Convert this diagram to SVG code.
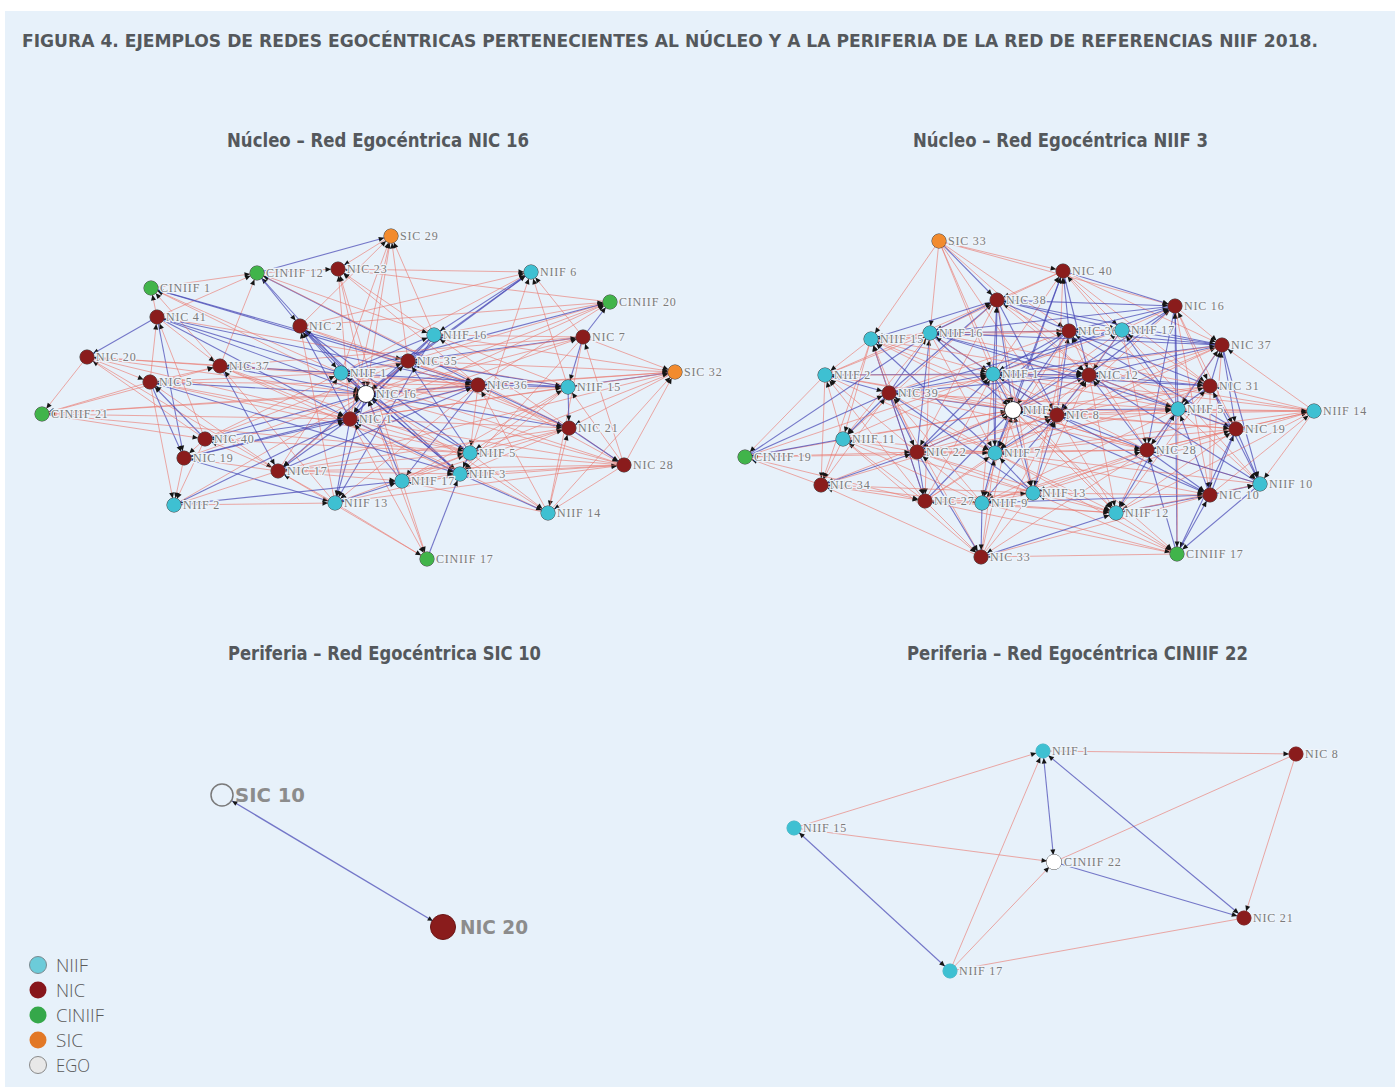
<svg xmlns="http://www.w3.org/2000/svg" width="1395" height="1087" viewBox="0 0 1395 1087">
<style>
.t{font-family:"Liberation Serif","DejaVu Serif",serif;font-size:12px;fill:#7b7b7b;letter-spacing:0.8px;paint-order:stroke;stroke:#eef4fa;stroke-width:2.5px;stroke-linejoin:round}
.F{fill:#3ec0d2;stroke:#2a2a2a;stroke-width:1}
.N{fill:#8a1c1c;stroke:#2a2a2a;stroke-width:1}
.C{fill:#41b44a;stroke:#2a2a2a;stroke-width:1}
.S{fill:#f28b2e;stroke:#2a2a2a;stroke-width:1}
.X{fill:#ffffff;stroke:#1a1a1a;stroke-width:1.6}
.r{stroke:#ea776d;stroke-width:1;stroke-opacity:0.62;fill:none}
.b{stroke:#4747b4;stroke-width:1.1;stroke-opacity:0.72;fill:none}
#c1 path,#c2 path,#c4 path.m{marker-end:url(#ah)}
.hd{font-family:"DejaVu Sans Condensed","Liberation Sans Narrow","Liberation Sans",sans-serif;font-weight:bold;fill:#54585c}
.lg{font-family:"Open Sans","Lato","Liberation Sans",sans-serif;font-weight:300;font-size:19px;fill:#5a5a5a}
.big{font-family:"DejaVu Sans","Liberation Sans",sans-serif;font-weight:bold;font-size:19px;fill:#8c8c8c}
</style>
<defs>
<marker id="ah" markerUnits="userSpaceOnUse" viewBox="-14 -3 14 6" refX="0" refY="0" markerWidth="14" markerHeight="6" orient="auto-start-reverse"><path d="M-12.5,-2.5L-7,0L-12.5,2.5z" fill="#151515"/></marker>
<marker id="ah12" markerUnits="userSpaceOnUse" viewBox="-18 -3 18 6" refX="0" refY="0" markerWidth="18" markerHeight="6" orient="auto-start-reverse"><path d="M-17,-2.5L-12,0L-17,2.5z" fill="#151515"/></marker>
</defs>
<rect x="0" y="0" width="1395" height="1087" fill="#ffffff"/>
<rect x="5" y="11" width="1390" height="1076" fill="#e7f1fa"/>
<text class="hd" x="22" y="47" font-size="17.5" textLength="1296" lengthAdjust="spacingAndGlyphs">FIGURA 4. EJEMPLOS DE REDES EGOCÉNTRICAS PERTENECIENTES AL NÚCLEO Y A LA PERIFERIA DE LA RED DE REFERENCIAS NIIF 2018.</text>
<text class="hd" x="227" y="147" font-size="19" textLength="302" lengthAdjust="spacingAndGlyphs">Núcleo – Red Egocéntrica NIC 16</text>
<text class="hd" x="913" y="147" font-size="19" textLength="295" lengthAdjust="spacingAndGlyphs">Núcleo – Red Egocéntrica NIIF 3</text>
<text class="hd" x="228" y="660" font-size="19" textLength="313" lengthAdjust="spacingAndGlyphs">Periferia – Red Egocéntrica SIC 10</text>
<text class="hd" x="907" y="660" font-size="19" textLength="341" lengthAdjust="spacingAndGlyphs">Periferia – Red Egocéntrica CINIIF 22</text>
<g id="connectors">
<g id="c1">
<path class="r" d="M391 236L366 394"/><path class="r" d="M338 269L366 394"/><path class="b" d="M366 394L257 273"/><path class="b" d="M531 272L366 394"/><path class="r" d="M151 288L366 394"/><path class="r" d="M366 394L610 302"/><path class="b" d="M157 317L366 394"/><path class="b" d="M366 394L300 326"/><path class="b" d="M434 335L366 394"/><path class="r" d="M583 337L366 394"/><path class="r" d="M366 394L87 357"/><path class="b" d="M408 361L366 394"/><path class="b" d="M220 366L366 394"/><path class="b" d="M366 394L341 373"/><path class="r" d="M675 372L366 394"/><path class="b" d="M150 382L366 394"/><path class="b" d="M366 394L478 385"/><path class="r" d="M568 387L366 394"/><path class="r" d="M42 414L366 394"/><path class="b" d="M366 394L350 419"/><path class="b" d="M569 428L366 394"/><path class="b" d="M205 439L366 394"/><path class="b" d="M366 394L470 453"/><path class="r" d="M184 458L366 394"/><path class="r" d="M624 465L366 394"/><path class="b" d="M366 394L278 471"/><path class="b" d="M460 474L366 394"/><path class="b" d="M402 481L366 394"/><path class="r" d="M174 505L366 394"/><path class="b" d="M366 394L335 503"/><path class="r" d="M548 513L366 394"/><path class="r" d="M427 559L366 394"/>
<path class="b" d="M257 273L391 236"/><path class="r" d="M391 236L338 269"/><path class="r" d="M300 326L391 236"/><path class="r" d="M341 373L391 236"/><path class="r" d="M408 361L391 236"/><path class="r" d="M434 335L391 236"/><path class="r" d="M350 419L391 236"/>
<path class="r" d="M338 269L531 272"/><path class="r" d="M257 273L338 269"/><path class="r" d="M434 335L338 269"/><path class="r" d="M478 385L338 269"/><path class="r" d="M350 419L338 269"/><path class="r" d="M610 302L338 269"/><path class="r" d="M402 481L338 269"/>
<path class="r" d="M151 288L257 273"/><path class="r" d="M157 317L257 273"/><path class="b" d="M257 273L300 326"/><path class="b" d="M257 273L478 385"/><path class="r" d="M220 366L257 273"/><path class="r" d="M257 273L434 335"/><path class="r" d="M569 428L257 273"/>
<path class="b" d="M531 272L434 335"/><path class="b" d="M408 361L531 272"/><path class="r" d="M341 373L531 272"/><path class="r" d="M583 337L531 272"/><path class="r" d="M568 387L531 272"/><path class="r" d="M300 326L531 272"/><path class="r" d="M470 453L531 272"/>
<path class="r" d="M300 326L610 302"/><path class="r" d="M408 361L610 302"/><path class="b" d="M341 373L610 302"/><path class="b" d="M583 337L610 302"/><path class="r" d="M434 335L610 302"/><path class="r" d="M350 419L610 302"/><path class="r" d="M478 385L610 302"/>
<path class="r" d="M157 317L151 288"/><path class="r" d="M341 373L151 288"/><path class="b" d="M151 288L408 361"/><path class="b" d="M478 385L151 288"/><path class="r" d="M220 366L151 288"/>
<path class="b" d="M157 317L87 357"/><path class="r" d="M150 382L157 317"/><path class="r" d="M157 317L220 366"/><path class="b" d="M157 317L184 458"/><path class="b" d="M341 373L157 317"/><path class="b" d="M157 317L350 419"/><path class="b" d="M478 385L157 317"/><path class="r" d="M157 317L568 387"/><path class="r" d="M205 439L157 317"/>
<path class="r" d="M87 357L150 382"/><path class="r" d="M220 366L87 357"/><path class="r" d="M87 357L42 414"/><path class="r" d="M341 373L87 357"/><path class="r" d="M87 357L350 419"/><path class="r" d="M205 439L87 357"/><path class="r" d="M87 357L278 471"/>
<path class="r" d="M150 382L220 366"/><path class="r" d="M220 366L350 419"/><path class="b" d="M341 373L220 366"/><path class="b" d="M220 366L278 471"/><path class="r" d="M335 503L220 366"/><path class="r" d="M220 366L460 474"/><path class="r" d="M470 453L220 366"/><path class="r" d="M220 366L478 385"/><path class="r" d="M583 337L220 366"/>
<path class="b" d="M300 326L341 373"/><path class="b" d="M350 419L300 326"/><path class="r" d="M300 326L478 385"/><path class="b" d="M470 453L300 326"/><path class="b" d="M300 326L460 474"/><path class="r" d="M335 503L300 326"/><path class="r" d="M300 326L569 428"/>
<path class="b" d="M341 373L434 335"/><path class="b" d="M434 335L350 419"/><path class="r" d="M583 337L434 335"/><path class="r" d="M434 335L675 372"/><path class="r" d="M568 387L434 335"/><path class="b" d="M434 335L335 503"/><path class="r" d="M624 465L434 335"/>
<path class="r" d="M583 337L675 372"/><path class="b" d="M583 337L408 361"/><path class="r" d="M341 373L583 337"/><path class="b" d="M583 337L568 387"/><path class="r" d="M350 419L583 337"/><path class="r" d="M583 337L460 474"/><path class="r" d="M624 465L583 337"/><path class="r" d="M583 337L548 513"/>
<path class="r" d="M408 361L341 373"/><path class="b" d="M350 419L408 361"/><path class="r" d="M408 361L478 385"/><path class="b" d="M470 453L408 361"/><path class="r" d="M408 361L278 471"/><path class="r" d="M569 428L408 361"/><path class="r" d="M408 361L675 372"/><path class="b" d="M568 387L408 361"/>
<path class="r" d="M341 373L478 385"/><path class="b" d="M568 387L341 373"/><path class="b" d="M341 373L460 474"/><path class="r" d="M278 471L341 373"/><path class="r" d="M341 373L569 428"/><path class="r" d="M205 439L341 373"/><path class="r" d="M341 373L150 382"/><path class="r" d="M624 465L341 373"/>
<path class="r" d="M675 372L478 385"/><path class="b" d="M675 372L568 387"/><path class="r" d="M350 419L675 372"/><path class="r" d="M675 372L470 453"/><path class="r" d="M278 471L675 372"/><path class="r" d="M675 372L569 428"/>
<path class="b" d="M150 382L184 458"/><path class="b" d="M205 439L150 382"/><path class="r" d="M150 382L42 414"/><path class="r" d="M350 419L150 382"/><path class="r" d="M150 382L478 385"/><path class="r" d="M470 453L150 382"/><path class="b" d="M150 382L460 474"/><path class="r" d="M278 471L150 382"/><path class="r" d="M150 382L174 505"/>
<path class="b" d="M478 385L568 387"/><path class="b" d="M569 428L478 385"/><path class="r" d="M478 385L470 453"/><path class="r" d="M350 419L478 385"/><path class="r" d="M478 385L624 465"/><path class="r" d="M548 513L478 385"/><path class="b" d="M478 385L402 481"/><path class="b" d="M278 471L478 385"/><path class="r" d="M478 385L335 503"/>
<path class="b" d="M568 387L569 428"/><path class="r" d="M624 465L568 387"/><path class="r" d="M568 387L460 474"/><path class="r" d="M350 419L568 387"/><path class="r" d="M568 387L470 453"/><path class="r" d="M402 481L568 387"/>
<path class="r" d="M42 414L350 419"/><path class="r" d="M478 385L42 414"/><path class="r" d="M42 414L205 439"/><path class="r" d="M470 453L42 414"/><path class="r" d="M42 414L220 366"/>
<path class="r" d="M350 419L470 453"/><path class="b" d="M460 474L350 419"/><path class="b" d="M350 419L278 471"/><path class="b" d="M402 481L350 419"/><path class="b" d="M350 419L335 503"/><path class="b" d="M174 505L350 419"/><path class="b" d="M350 419L205 439"/><path class="r" d="M548 513L350 419"/><path class="r" d="M350 419L569 428"/><path class="r" d="M624 465L350 419"/><path class="r" d="M350 419L427 559"/><path class="b" d="M184 458L350 419"/>
<path class="b" d="M569 428L624 465"/><path class="r" d="M470 453L569 428"/><path class="r" d="M569 428L460 474"/><path class="r" d="M548 513L569 428"/><path class="r" d="M569 428L278 471"/><path class="r" d="M402 481L569 428"/>
<path class="r" d="M205 439L184 458"/><path class="r" d="M278 471L205 439"/><path class="r" d="M205 439L174 505"/><path class="r" d="M470 453L205 439"/><path class="r" d="M205 439L408 361"/>
<path class="b" d="M470 453L460 474"/><path class="r" d="M624 465L470 453"/><path class="r" d="M470 453L548 513"/><path class="r" d="M402 481L470 453"/><path class="r" d="M470 453L335 503"/><path class="r" d="M278 471L470 453"/>
<path class="r" d="M184 458L174 505"/><path class="r" d="M278 471L184 458"/><path class="b" d="M184 458L335 503"/><path class="b" d="M478 385L184 458"/>
<path class="r" d="M624 465L460 474"/><path class="r" d="M402 481L624 465"/><path class="r" d="M624 465L548 513"/><path class="r" d="M335 503L624 465"/><path class="r" d="M624 465L278 471"/>
<path class="r" d="M278 471L402 481"/><path class="r" d="M335 503L278 471"/><path class="r" d="M278 471L174 505"/><path class="r" d="M427 559L278 471"/><path class="r" d="M278 471L460 474"/>
<path class="b" d="M460 474L548 513"/><path class="r" d="M402 481L460 474"/><path class="b" d="M427 559L460 474"/><path class="r" d="M460 474L335 503"/><path class="b" d="M335 503L402 481"/><path class="r" d="M402 481L427 559"/><path class="r" d="M548 513L402 481"/><path class="r" d="M335 503L427 559"/><path class="r" d="M174 505L335 503"/><path class="b" d="M174 505L402 481"/><path class="r" d="M548 513L675 372"/><path class="r" d="M624 465L675 372"/>
</g>
<g id="c2">
<path class="r" d="M939 241L1013 410"/><path class="b" d="M1013 410L1063 271"/><path class="b" d="M997 300L1013 410"/><path class="b" d="M1013 410L1175 306"/><path class="b" d="M1069 331L1013 410"/><path class="r" d="M1013 410L1122 330"/><path class="b" d="M930 333L1013 410"/><path class="r" d="M1013 410L871 339"/><path class="r" d="M1222 345L1013 410"/><path class="r" d="M1013 410L825 375"/><path class="b" d="M993 374L1013 410"/><path class="b" d="M1013 410L1089 375"/><path class="r" d="M1210 386L1013 410"/><path class="b" d="M1013 410L889 393"/><path class="b" d="M1057 415L1013 410"/><path class="b" d="M1013 410L1178 409"/><path class="r" d="M1314 411L1013 410"/><path class="r" d="M1013 410L1236 429"/><path class="r" d="M843 439L1013 410"/><path class="r" d="M1013 410L745 457"/><path class="b" d="M917 452L1013 410"/><path class="b" d="M1013 410L995 453"/><path class="r" d="M1147 450L1013 410"/><path class="r" d="M1013 410L821 485"/><path class="b" d="M925 501L1013 410"/><path class="r" d="M1013 410L982 503"/><path class="b" d="M1033 493L1013 410"/><path class="b" d="M1013 410L1210 495"/><path class="r" d="M1260 484L1013 410"/><path class="r" d="M1013 410L1116 513"/><path class="r" d="M981 557L1013 410"/><path class="r" d="M1013 410L1177 554"/>
<path class="b" d="M939 241L997 300"/><path class="r" d="M939 241L1063 271"/><path class="r" d="M939 241L1175 306"/><path class="r" d="M939 241L1069 331"/><path class="r" d="M939 241L993 374"/><path class="r" d="M939 241L871 339"/><path class="r" d="M939 241L930 333"/><path class="r" d="M939 241L1089 375"/><path class="r" d="M939 241L1057 415"/>
<path class="r" d="M1063 271L997 300"/><path class="b" d="M1063 271L1175 306"/><path class="b" d="M1069 331L1063 271"/><path class="r" d="M1063 271L1122 330"/><path class="r" d="M993 374L1063 271"/><path class="b" d="M1063 271L1089 375"/><path class="r" d="M1057 415L1063 271"/><path class="r" d="M1063 271L1222 345"/><path class="r" d="M1178 409L1063 271"/><path class="r" d="M1063 271L930 333"/><path class="b" d="M995 453L1063 271"/><path class="r" d="M1063 271L1210 386"/>
<path class="b" d="M997 300L1175 306"/><path class="b" d="M1069 331L997 300"/><path class="b" d="M997 300L1122 330"/><path class="b" d="M930 333L997 300"/><path class="b" d="M997 300L871 339"/><path class="b" d="M993 374L997 300"/><path class="r" d="M997 300L1089 375"/><path class="b" d="M889 393L997 300"/><path class="b" d="M997 300L1057 415"/><path class="r" d="M825 375L997 300"/><path class="r" d="M997 300L917 452"/><path class="b" d="M995 453L997 300"/><path class="r" d="M997 300L1033 493"/><path class="r" d="M1178 409L997 300"/><path class="r" d="M997 300L843 439"/><path class="b" d="M1222 345L997 300"/>
<path class="b" d="M1175 306L1069 331"/><path class="r" d="M1122 330L1175 306"/><path class="r" d="M1175 306L1222 345"/><path class="b" d="M1089 375L1175 306"/><path class="r" d="M1175 306L1210 386"/><path class="b" d="M1178 409L1175 306"/><path class="b" d="M1175 306L1147 450"/><path class="b" d="M1177 554L1175 306"/><path class="r" d="M1175 306L1210 495"/><path class="b" d="M993 374L1175 306"/><path class="r" d="M1175 306L1057 415"/><path class="r" d="M1236 429L1175 306"/><path class="b" d="M1175 306L930 333"/>
<path class="r" d="M1069 331L1122 330"/><path class="b" d="M930 333L1069 331"/><path class="r" d="M1069 331L871 339"/><path class="b" d="M1222 345L1069 331"/><path class="b" d="M1069 331L993 374"/><path class="r" d="M1089 375L1069 331"/><path class="b" d="M1069 331L1210 386"/><path class="b" d="M1057 415L1069 331"/><path class="r" d="M1069 331L995 453"/><path class="r" d="M1147 450L1069 331"/><path class="b" d="M1069 331L917 452"/><path class="r" d="M889 393L1069 331"/><path class="r" d="M1069 331L1033 493"/><path class="b" d="M1236 429L1069 331"/>
<path class="b" d="M1122 330L1222 345"/><path class="r" d="M993 374L1122 330"/><path class="b" d="M1122 330L1089 375"/><path class="r" d="M1210 386L1122 330"/><path class="r" d="M1122 330L1057 415"/><path class="b" d="M1178 409L1122 330"/><path class="r" d="M1122 330L1147 450"/><path class="r" d="M930 333L1122 330"/><path class="r" d="M1122 330L1260 484"/><path class="b" d="M889 393L1122 330"/>
<path class="r" d="M930 333L871 339"/><path class="r" d="M825 375L930 333"/><path class="b" d="M930 333L993 374"/><path class="b" d="M889 393L930 333"/><path class="r" d="M930 333L843 439"/><path class="b" d="M917 452L930 333"/><path class="b" d="M930 333L1089 375"/><path class="r" d="M1057 415L930 333"/><path class="r" d="M930 333L995 453"/><path class="b" d="M1222 345L930 333"/><path class="r" d="M930 333L925 501"/><path class="r" d="M1210 386L930 333"/><path class="b" d="M930 333L1178 409"/>
<path class="r" d="M871 339L825 375"/><path class="b" d="M889 393L871 339"/><path class="r" d="M871 339L843 439"/><path class="r" d="M917 452L871 339"/><path class="r" d="M871 339L993 374"/><path class="r" d="M925 501L871 339"/><path class="r" d="M871 339L821 485"/><path class="b" d="M995 453L871 339"/><path class="r" d="M871 339L1089 375"/><path class="r" d="M1057 415L871 339"/>
<path class="b" d="M1222 345L1089 375"/><path class="b" d="M1210 386L1222 345"/><path class="b" d="M1222 345L1178 409"/><path class="r" d="M1314 411L1222 345"/><path class="b" d="M1222 345L1236 429"/><path class="r" d="M1147 450L1222 345"/><path class="b" d="M1222 345L993 374"/><path class="r" d="M1057 415L1222 345"/><path class="b" d="M1222 345L1260 484"/><path class="r" d="M889 393L1222 345"/><path class="r" d="M1222 345L995 453"/><path class="r" d="M1210 495L1222 345"/>
<path class="b" d="M825 375L889 393"/><path class="r" d="M843 439L825 375"/><path class="r" d="M825 375L745 457"/><path class="r" d="M917 452L825 375"/><path class="r" d="M825 375L821 485"/><path class="r" d="M925 501L825 375"/><path class="b" d="M825 375L993 374"/><path class="r" d="M1057 415L825 375"/><path class="r" d="M825 375L995 453"/><path class="r" d="M1089 375L825 375"/>
<path class="b" d="M993 374L1089 375"/><path class="b" d="M889 393L993 374"/><path class="b" d="M993 374L1057 415"/><path class="b" d="M917 452L993 374"/><path class="b" d="M993 374L995 453"/><path class="r" d="M925 501L993 374"/><path class="r" d="M993 374L982 503"/><path class="r" d="M1178 409L993 374"/><path class="b" d="M993 374L1210 386"/><path class="r" d="M1147 450L993 374"/><path class="r" d="M993 374L1033 493"/><path class="r" d="M843 439L993 374"/><path class="r" d="M993 374L1116 513"/><path class="r" d="M1314 411L993 374"/>
<path class="b" d="M1089 375L1210 386"/><path class="b" d="M1057 415L1089 375"/><path class="b" d="M1089 375L1178 409"/><path class="b" d="M1147 450L1089 375"/><path class="r" d="M1089 375L1236 429"/><path class="r" d="M1314 411L1089 375"/><path class="r" d="M1089 375L995 453"/><path class="b" d="M889 393L1089 375"/><path class="r" d="M1089 375L917 452"/><path class="r" d="M1033 493L1089 375"/><path class="r" d="M1089 375L1116 513"/><path class="b" d="M1260 484L1089 375"/>
<path class="b" d="M1210 386L1178 409"/><path class="r" d="M1314 411L1210 386"/><path class="b" d="M1210 386L1236 429"/><path class="r" d="M1147 450L1210 386"/><path class="r" d="M1210 386L1210 495"/><path class="b" d="M1260 484L1210 386"/><path class="r" d="M1210 386L1057 415"/><path class="r" d="M995 453L1210 386"/><path class="r" d="M1210 386L1116 513"/>
<path class="b" d="M889 393L843 439"/><path class="b" d="M745 457L889 393"/><path class="b" d="M889 393L917 452"/><path class="r" d="M821 485L889 393"/><path class="b" d="M889 393L925 501"/><path class="r" d="M1057 415L889 393"/><path class="r" d="M889 393L995 453"/><path class="r" d="M982 503L889 393"/><path class="r" d="M889 393L1147 450"/><path class="r" d="M1178 409L889 393"/><path class="r" d="M889 393L981 557"/><path class="b" d="M1033 493L889 393"/>
<path class="r" d="M1057 415L1178 409"/><path class="r" d="M917 452L1057 415"/><path class="b" d="M1057 415L995 453"/><path class="b" d="M1147 450L1057 415"/><path class="b" d="M1057 415L982 503"/><path class="b" d="M1033 493L1057 415"/><path class="r" d="M1057 415L1116 513"/><path class="r" d="M925 501L1057 415"/><path class="r" d="M1057 415L1236 429"/><path class="r" d="M1314 411L1057 415"/><path class="b" d="M1057 415L1210 495"/><path class="r" d="M981 557L1057 415"/><path class="r" d="M1057 415L821 485"/>
<path class="r" d="M1178 409L1314 411"/><path class="b" d="M1236 429L1178 409"/><path class="b" d="M1178 409L1147 450"/><path class="b" d="M1210 495L1178 409"/><path class="r" d="M1178 409L1260 484"/><path class="b" d="M1116 513L1178 409"/><path class="r" d="M1178 409L982 503"/><path class="r" d="M917 452L1178 409"/><path class="r" d="M1178 409L1177 554"/>
<path class="r" d="M1236 429L1314 411"/><path class="r" d="M1147 450L1314 411"/><path class="r" d="M1314 411L1260 484"/><path class="r" d="M1210 495L1314 411"/><path class="r" d="M1314 411L1116 513"/><path class="r" d="M995 453L1314 411"/><path class="r" d="M1314 411L1033 493"/>
<path class="r" d="M1236 429L1147 450"/><path class="b" d="M1210 495L1236 429"/><path class="b" d="M1236 429L1260 484"/><path class="r" d="M1116 513L1236 429"/><path class="b" d="M1236 429L1177 554"/><path class="r" d="M982 503L1236 429"/><path class="r" d="M1236 429L995 453"/>
<path class="b" d="M843 439L745 457"/><path class="r" d="M917 452L843 439"/><path class="r" d="M843 439L821 485"/><path class="r" d="M925 501L843 439"/><path class="r" d="M843 439L995 453"/><path class="r" d="M982 503L843 439"/><path class="r" d="M843 439L981 557"/><path class="r" d="M1033 493L843 439"/>
<path class="r" d="M745 457L917 452"/><path class="r" d="M821 485L745 457"/><path class="r" d="M745 457L993 374"/><path class="r" d="M995 453L745 457"/><path class="r" d="M745 457L925 501"/><path class="b" d="M745 457L930 333"/>
<path class="r" d="M917 452L995 453"/><path class="b" d="M821 485L917 452"/><path class="b" d="M917 452L925 501"/><path class="r" d="M982 503L917 452"/><path class="b" d="M917 452L981 557"/><path class="r" d="M1033 493L917 452"/><path class="r" d="M917 452L1116 513"/><path class="r" d="M1147 450L917 452"/>
<path class="r" d="M995 453L1147 450"/><path class="r" d="M925 501L995 453"/><path class="b" d="M995 453L982 503"/><path class="b" d="M1033 493L995 453"/><path class="r" d="M995 453L1116 513"/><path class="r" d="M981 557L995 453"/><path class="r" d="M995 453L1210 495"/><path class="r" d="M1260 484L995 453"/><path class="r" d="M995 453L1177 554"/>
<path class="b" d="M1147 450L1210 495"/><path class="b" d="M1260 484L1147 450"/><path class="r" d="M1147 450L1116 513"/><path class="b" d="M1177 554L1147 450"/><path class="r" d="M1147 450L1033 493"/><path class="r" d="M982 503L1147 450"/><path class="r" d="M1147 450L981 557"/>
<path class="r" d="M821 485L925 501"/><path class="r" d="M981 557L821 485"/><path class="r" d="M821 485L982 503"/><path class="r" d="M1033 493L821 485"/>
<path class="r" d="M925 501L981 557"/><path class="r" d="M982 503L925 501"/><path class="r" d="M925 501L1033 493"/><path class="r" d="M1177 554L925 501"/><path class="r" d="M925 501L1116 513"/>
<path class="b" d="M982 503L981 557"/><path class="r" d="M1033 493L982 503"/><path class="r" d="M982 503L1116 513"/><path class="b" d="M1210 495L982 503"/><path class="r" d="M982 503L1177 554"/>
<path class="r" d="M1033 493L1116 513"/><path class="r" d="M981 557L1033 493"/><path class="r" d="M1033 493L1210 495"/><path class="r" d="M1177 554L1033 493"/>
<path class="b" d="M1210 495L1260 484"/><path class="b" d="M1177 554L1210 495"/><path class="b" d="M1210 495L1116 513"/><path class="r" d="M981 557L1210 495"/><path class="b" d="M1260 484L1177 554"/><path class="r" d="M1116 513L1260 484"/><path class="r" d="M1116 513L1177 554"/><path class="b" d="M981 557L1116 513"/><path class="r" d="M1177 554L981 557"/>
</g>
<g id="c3">
<path class="b" d="M443 927L222 795" marker-start="url(#ah12)" marker-end="url(#ah12)" style="stroke-width:1.4"/>
</g>
<g id="c4">
<path class="r m" d="M794 828L1043 751"/>
<path class="r m" d="M794 828L1054 862"/>
<path class="r m" d="M1043 751L1296 754"/>
<path class="r" d="M1296 754L1054 862"/>
<path class="r m" d="M1296 754L1244 918"/>
<path class="r m" d="M950 971L1043 751"/>
<path class="r m" d="M950 971L1054 862"/>
<path class="r" d="M950 971L1244 918"/>
<path class="b m" d="M1043 751L1054 862" marker-start="url(#ah)"/>
<path class="b m" d="M1043 751L1244 918" marker-start="url(#ah)"/>
<path class="b m" d="M1054 862L1244 918"/>
<path class="b m" d="M794 828L950 971" marker-start="url(#ah)"/>
</g>
</g>
<g id="p1-nodes" class="t">
<g id="p1-sic29"><circle class="S" cx="391" cy="236" r="7"/><text x="400" y="240">SIC 29</text></g>
<g id="p1-nic23"><circle class="N" cx="338" cy="269" r="7"/><text x="347" y="273">NIC 23</text></g>
<g id="p1-ciniif12"><circle class="C" cx="257" cy="273" r="7"/><text x="266" y="277">CINIIF 12</text></g>
<g id="p1-niif6"><circle class="F" cx="531" cy="272" r="7"/><text x="540" y="276">NIIF 6</text></g>
<g id="p1-ciniif1"><circle class="C" cx="151" cy="288" r="7"/><text x="160" y="292">CINIIF 1</text></g>
<g id="p1-ciniif20"><circle class="C" cx="610" cy="302" r="7"/><text x="619" y="306">CINIIF 20</text></g>
<g id="p1-nic41"><circle class="N" cx="157" cy="317" r="7"/><text x="166" y="321">NIC 41</text></g>
<g id="p1-nic2"><circle class="N" cx="300" cy="326" r="7"/><text x="309" y="330">NIC 2</text></g>
<g id="p1-niif16"><circle class="F" cx="434" cy="335" r="7"/><text x="443" y="339">NIIF 16</text></g>
<g id="p1-nic7"><circle class="N" cx="583" cy="337" r="7"/><text x="592" y="341">NIC 7</text></g>
<g id="p1-nic20"><circle class="N" cx="87" cy="357" r="7"/><text x="96" y="361">NIC 20</text></g>
<g id="p1-nic35"><circle class="N" cx="408" cy="361" r="7"/><text x="417" y="365">NIC 35</text></g>
<g id="p1-nic37"><circle class="N" cx="220" cy="366" r="7"/><text x="229" y="370">NIC 37</text></g>
<g id="p1-niif1"><circle class="F" cx="341" cy="373" r="7"/><text x="350" y="377">NIIF 1</text></g>
<g id="p1-sic32"><circle class="S" cx="675" cy="372" r="7"/><text x="684" y="376">SIC 32</text></g>
<g id="p1-nic5"><circle class="N" cx="150" cy="382" r="7"/><text x="159" y="386">NIC 5</text></g>
<g id="p1-nic36"><circle class="N" cx="478" cy="385" r="7"/><text x="487" y="389">NIC 36</text></g>
<g id="p1-niif15"><circle class="F" cx="568" cy="387" r="7"/><text x="577" y="391">NIIF 15</text></g>
<g id="p1-ego-nic16"><circle class="X" cx="366" cy="394" r="8"/><text x="376" y="398">NIC 16</text></g>
<g id="p1-ciniif21"><circle class="C" cx="42" cy="414" r="7"/><text x="51" y="418">CINIIF 21</text></g>
<g id="p1-nic1"><circle class="N" cx="350" cy="419" r="7"/><text x="359" y="423">NIC 1</text></g>
<g id="p1-nic21"><circle class="N" cx="569" cy="428" r="7"/><text x="578" y="432">NIC 21</text></g>
<g id="p1-nic40"><circle class="N" cx="205" cy="439" r="7"/><text x="214" y="443">NIC 40</text></g>
<g id="p1-niif5"><circle class="F" cx="470" cy="453" r="7"/><text x="479" y="457">NIIF 5</text></g>
<g id="p1-nic19"><circle class="N" cx="184" cy="458" r="7"/><text x="193" y="462">NIC 19</text></g>
<g id="p1-nic28"><circle class="N" cx="624" cy="465" r="7"/><text x="633" y="469">NIC 28</text></g>
<g id="p1-nic17"><circle class="N" cx="278" cy="471" r="7"/><text x="287" y="475">NIC 17</text></g>
<g id="p1-niif3"><circle class="F" cx="460" cy="474" r="7"/><text x="469" y="478">NIIF 3</text></g>
<g id="p1-niif17"><circle class="F" cx="402" cy="481" r="7"/><text x="411" y="485">NIIF 17</text></g>
<g id="p1-niif2"><circle class="F" cx="174" cy="505" r="7"/><text x="183" y="509">NIIF 2</text></g>
<g id="p1-niif13"><circle class="F" cx="335" cy="503" r="7"/><text x="344" y="507">NIIF 13</text></g>
<g id="p1-niif14"><circle class="F" cx="548" cy="513" r="7"/><text x="557" y="517">NIIF 14</text></g>
<g id="p1-ciniif17"><circle class="C" cx="427" cy="559" r="7"/><text x="436" y="563">CINIIF 17</text></g>
</g>
<g id="p2-nodes" class="t">
<g id="p2-sic33"><circle class="S" cx="939" cy="241" r="7"/><text x="948" y="245">SIC 33</text></g>
<g id="p2-nic40"><circle class="N" cx="1063" cy="271" r="7"/><text x="1072" y="275">NIC 40</text></g>
<g id="p2-nic38"><circle class="N" cx="997" cy="300" r="7"/><text x="1006" y="304">NIC 38</text></g>
<g id="p2-nic16"><circle class="N" cx="1175" cy="306" r="7"/><text x="1184" y="310">NIC 16</text></g>
<g id="p2-nic36"><circle class="N" cx="1069" cy="331" r="7"/><text x="1078" y="335">NIC 36</text></g>
<g id="p2-niif17"><circle class="F" cx="1122" cy="330" r="7"/><text x="1131" y="334">NIIF 17</text></g>
<g id="p2-niif16"><circle class="F" cx="930" cy="333" r="7"/><text x="939" y="337">NIIF 16</text></g>
<g id="p2-niif15"><circle class="F" cx="871" cy="339" r="7"/><text x="880" y="343">NIIF 15</text></g>
<g id="p2-nic37"><circle class="N" cx="1222" cy="345" r="7"/><text x="1231" y="349">NIC 37</text></g>
<g id="p2-niif2"><circle class="F" cx="825" cy="375" r="7"/><text x="834" y="379">NIIF 2</text></g>
<g id="p2-niif1"><circle class="F" cx="993" cy="374" r="7"/><text x="1002" y="378">NIIF 1</text></g>
<g id="p2-nic12"><circle class="N" cx="1089" cy="375" r="7"/><text x="1098" y="379">NIC 12</text></g>
<g id="p2-nic31"><circle class="N" cx="1210" cy="386" r="7"/><text x="1219" y="390">NIC 31</text></g>
<g id="p2-nic39"><circle class="N" cx="889" cy="393" r="7"/><text x="898" y="397">NIC 39</text></g>
<g id="p2-ego-niif3"><circle class="X" cx="1013" cy="410" r="8"/><text x="1023" y="414">NIIF 3</text></g>
<g id="p2-nic8"><circle class="N" cx="1057" cy="415" r="7"/><text x="1066" y="419">NIC 8</text></g>
<g id="p2-niif5"><circle class="F" cx="1178" cy="409" r="7"/><text x="1187" y="413">NIIF 5</text></g>
<g id="p2-niif14"><circle class="F" cx="1314" cy="411" r="7"/><text x="1323" y="415">NIIF 14</text></g>
<g id="p2-nic19"><circle class="N" cx="1236" cy="429" r="7"/><text x="1245" y="433">NIC 19</text></g>
<g id="p2-niif11"><circle class="F" cx="843" cy="439" r="7"/><text x="852" y="443">NIIF 11</text></g>
<g id="p2-ciniif19"><circle class="C" cx="745" cy="457" r="7"/><text x="754" y="461">CINIIF 19</text></g>
<g id="p2-nic22"><circle class="N" cx="917" cy="452" r="7"/><text x="926" y="456">NIC 22</text></g>
<g id="p2-niif7"><circle class="F" cx="995" cy="453" r="7"/><text x="1004" y="457">NIIF 7</text></g>
<g id="p2-nic28"><circle class="N" cx="1147" cy="450" r="7"/><text x="1156" y="454">NIC 28</text></g>
<g id="p2-nic34"><circle class="N" cx="821" cy="485" r="7"/><text x="830" y="489">NIC 34</text></g>
<g id="p2-nic27"><circle class="N" cx="925" cy="501" r="7"/><text x="934" y="505">NIC 27</text></g>
<g id="p2-niif9"><circle class="F" cx="982" cy="503" r="7"/><text x="991" y="507">NIIF 9</text></g>
<g id="p2-niif13"><circle class="F" cx="1033" cy="493" r="7"/><text x="1042" y="497">NIIF 13</text></g>
<g id="p2-nic10"><circle class="N" cx="1210" cy="495" r="7"/><text x="1219" y="499">NIC 10</text></g>
<g id="p2-niif10"><circle class="F" cx="1260" cy="484" r="7"/><text x="1269" y="488">NIIF 10</text></g>
<g id="p2-niif12"><circle class="F" cx="1116" cy="513" r="7"/><text x="1125" y="517">NIIF 12</text></g>
<g id="p2-nic33"><circle class="N" cx="981" cy="557" r="7"/><text x="990" y="561">NIC 33</text></g>
<g id="p2-ciniif17"><circle class="C" cx="1177" cy="554" r="7"/><text x="1186" y="558">CINIIF 17</text></g>
</g>
<g id="p3-nodes">
<g id="p3-ego-sic10"><circle cx="222" cy="795" r="11" fill="#e7f1fa" stroke="#7a7a7a" stroke-width="1.5"/><text class="big" x="235" y="802" textLength="70" lengthAdjust="spacingAndGlyphs">SIC 10</text></g>
<g id="p3-nic20"><circle cx="443" cy="927" r="12.5" fill="#8a1c1c" stroke="#6a1515" stroke-width="1"/><text class="big" x="460" y="934" textLength="68" lengthAdjust="spacingAndGlyphs">NIC 20</text></g>
</g>
<g id="p4-nodes" class="t">
<g id="p4-niif1"><circle class="F" cx="1043" cy="751" r="7" style="stroke:#3aa9b8"/><text x="1052" y="755">NIIF 1</text></g>
<g id="p4-nic8"><circle class="N" cx="1296" cy="754" r="7" style="stroke:#6a1515"/><text x="1305" y="758">NIC 8</text></g>
<g id="p4-niif15"><circle class="F" cx="794" cy="828" r="7" style="stroke:#3aa9b8"/><text x="803" y="832">NIIF 15</text></g>
<g id="p4-ego-ciniif22"><circle cx="1054" cy="862" r="7.5" fill="#ffffff" stroke="#555" stroke-width="1"/><text x="1064" y="866">CINIIF 22</text></g>
<g id="p4-nic21"><circle class="N" cx="1244" cy="918" r="7" style="stroke:#6a1515"/><text x="1253" y="922">NIC 21</text></g>
<g id="p4-niif17"><circle class="F" cx="950" cy="971" r="7" style="stroke:#3aa9b8"/><text x="959" y="975">NIIF 17</text></g>
</g>
<g id="legend">
<g id="lg-niif"><circle cx="38" cy="965" r="8.5" fill="#6ccbd9" stroke="#7a8a90" stroke-width="1"/><text class="lg" x="56" y="972" textLength="32" lengthAdjust="spacingAndGlyphs">NIIF</text></g>
<g id="lg-nic"><circle cx="38" cy="990" r="8.5" fill="#87161b"/><text class="lg" x="56" y="997" textLength="29" lengthAdjust="spacingAndGlyphs">NIC</text></g>
<g id="lg-ciniif"><circle cx="38" cy="1015" r="8.5" fill="#35a84a"/><text class="lg" x="56" y="1022" textLength="48" lengthAdjust="spacingAndGlyphs">CINIIF</text></g>
<g id="lg-sic"><circle cx="38" cy="1040" r="8.5" fill="#e27826"/><text class="lg" x="56" y="1047" textLength="27" lengthAdjust="spacingAndGlyphs">SIC</text></g>
<g id="lg-ego"><circle cx="38" cy="1065" r="8.5" fill="#e8e8e8" stroke="#8a8a8a" stroke-width="1"/><text class="lg" x="56" y="1072" textLength="34" lengthAdjust="spacingAndGlyphs">EGO</text></g>
</g>
</svg>
